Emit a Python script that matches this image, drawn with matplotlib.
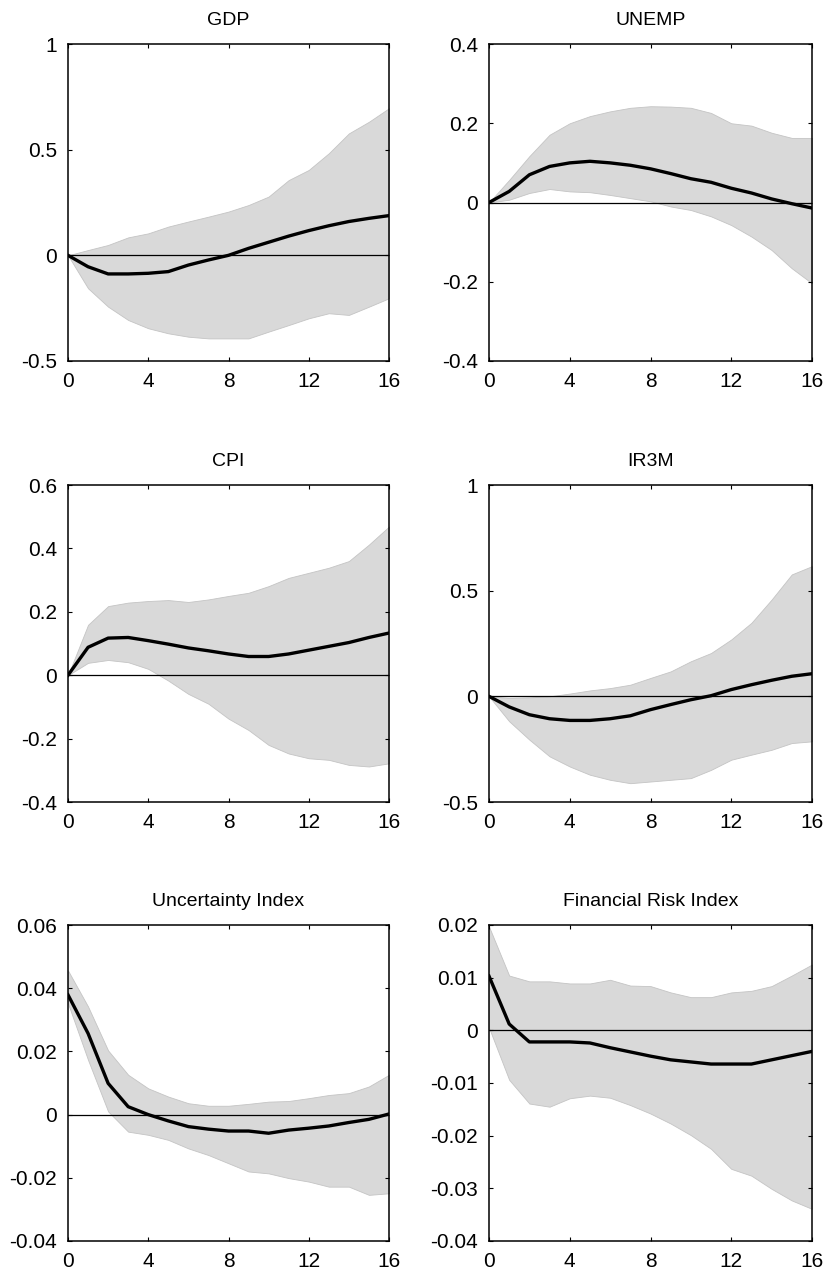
import numpy as np
import matplotlib
matplotlib.use("Agg")
import matplotlib.pyplot as plt

plt.rcParams["font.family"] = ["Liberation Sans", "DejaVu Sans"]

# Horizons (quarters)
horizon = list(range(17))

# Median responses and bands
gdp_med = [0, -0.054, -0.088, -0.088, -0.085, -0.077, -0.046, -0.022, 0.0, 0.033,
           0.062, 0.091, 0.117, 0.14, 0.16, 0.175, 0.188]
gdp_up = [0, 0.025, 0.049, 0.085, 0.104, 0.136, 0.16, 0.183, 0.207, 0.238,
          0.278, 0.356, 0.404, 0.483, 0.577, 0.632, 0.696]
gdp_lo = [0, -0.156, -0.243, -0.306, -0.345, -0.369, -0.385, -0.393, -0.393, -0.393,
          -0.361, -0.33, -0.298, -0.274, -0.282, -0.243, -0.203]

unemp_med = [0, 0.028, 0.07, 0.091, 0.1, 0.104, 0.1, 0.094, 0.085, 0.073,
             0.06, 0.051, 0.036, 0.024, 0.009, -0.003, -0.014]
unemp_up = [0, 0.057, 0.117, 0.171, 0.2, 0.218, 0.23, 0.239, 0.243, 0.242,
            0.239, 0.226, 0.2, 0.194, 0.176, 0.163, 0.163]
unemp_lo = [0, 0.007, 0.024, 0.034, 0.028, 0.026, 0.019, 0.011, 0.003, -0.01,
            -0.019, -0.035, -0.057, -0.086, -0.12, -0.166, -0.204]

cpi_med = [0, 0.088, 0.117, 0.119, 0.109, 0.098, 0.086, 0.077, 0.067, 0.059,
           0.059, 0.067, 0.079, 0.091, 0.103, 0.119, 0.133]
cpi_up = [0, 0.159, 0.218, 0.229, 0.234, 0.237, 0.231, 0.239, 0.25, 0.26,
          0.281, 0.307, 0.323, 0.339, 0.36, 0.412, 0.469]
cpi_lo = [0, 0.039, 0.048, 0.041, 0.02, -0.017, -0.059, -0.09, -0.137, -0.173,
          -0.22, -0.247, -0.262, -0.267, -0.283, -0.288, -0.278]

ir_med = [0, -0.05, -0.087, -0.106, -0.114, -0.114, -0.106, -0.092, -0.063, -0.039,
          -0.016, 0.003, 0.032, 0.055, 0.076, 0.095, 0.107]
ir_up = [0, -0.008, -0.005, 0.0, 0.013, 0.028, 0.039, 0.055, 0.087, 0.118,
         0.166, 0.205, 0.269, 0.348, 0.458, 0.577, 0.616]
ir_lo = [0, -0.118, -0.205, -0.284, -0.332, -0.371, -0.395, -0.411, -0.403, -0.395,
         -0.387, -0.348, -0.3, -0.276, -0.253, -0.221, -0.213]

unc_med = [0.0379, 0.0257, 0.0099, 0.0025, 0.0, -0.002, -0.0038, -0.0046, -0.0052, -0.0052,
           -0.0059, -0.0049, -0.0043, -0.0036, -0.0025, -0.0015, 0.0002]
unc_up = [0.0456, 0.0342, 0.0203, 0.0126, 0.0083, 0.0057, 0.0036, 0.0028, 0.0028, 0.0034,
          0.0041, 0.0043, 0.0052, 0.0062, 0.0068, 0.0089, 0.0126]
unc_lo = [0.0352, 0.0173, 0.001, -0.0054, -0.0064, -0.008, -0.0107, -0.0128, -0.0154, -0.018,
          -0.0186, -0.0201, -0.0212, -0.0228, -0.0228, -0.0254, -0.0249]

fri_med = [0.0103, 0.0012, -0.0022, -0.0022, -0.0022, -0.0024, -0.0033, -0.0041, -0.0049, -0.0056,
           -0.006, -0.0064, -0.0064, -0.0064, -0.0056, -0.0048, -0.004]
fri_up = [0.0197, 0.0104, 0.0093, 0.0093, 0.0089, 0.0089, 0.0096, 0.0085, 0.0084, 0.0072,
          0.0063, 0.0063, 0.0072, 0.0075, 0.0084, 0.0104, 0.0125]
fri_lo = [0.0005, -0.0094, -0.0139, -0.0145, -0.0129, -0.0124, -0.0128, -0.0142, -0.0158, -0.0177,
          -0.0199, -0.0225, -0.0263, -0.0276, -0.0301, -0.0323, -0.0339]

titles = ["GDP", "UNEMP", "CPI", "IR3M", "Uncertainty Index", "Financial Risk Index"]
medians = [gdp_med, unemp_med, cpi_med, ir_med, unc_med, fri_med]
uppers = [gdp_up, unemp_up, cpi_up, ir_up, unc_up, fri_up]
lowers = [gdp_lo, unemp_lo, cpi_lo, ir_lo, unc_lo, fri_lo]
ylims = [(-0.5, 1), (-0.4, 0.4), (-0.4, 0.6), (-0.5, 1), (-0.04, 0.06), (-0.04, 0.02)]
yticks = [
    [-0.5, 0, 0.5, 1],
    [-0.4, -0.2, 0, 0.2, 0.4],
    [-0.4, -0.2, 0, 0.2, 0.4, 0.6],
    [-0.5, 0, 0.5, 1],
    [-0.04, -0.02, 0, 0.02, 0.04, 0.06],
    [-0.04, -0.03, -0.02, -0.01, 0, 0.01, 0.02],
]
xticks = [0, 4, 8, 12, 16]

W, H = 825, 1276
fig = plt.figure(figsize=(W / 100, H / 100), dpi=100)

# pixel boxes of the six panels
col_x = [(68, 389), (489, 812)]
row_y = [(44, 361), (485, 802), (925, 1241)]

for i in range(6):
    r, c = divmod(i, 2)
    x0, x1 = col_x[c]
    y0, y1 = row_y[r]
    ax = fig.add_axes([x0 / W, 1 - y1 / H, (x1 - x0) / W, (y1 - y0) / H])
    ax.fill_between(horizon, lowers[i], uppers[i], facecolor="#d9d9d9",
                    edgecolor="#c4c4c4", linewidth=0.6, zorder=1)
    ax.axhline(0, color="black", linewidth=0.9, zorder=2)
    ax.plot(horizon, medians[i], color="black", linewidth=2.4, zorder=3)
    ax.set_xlim(0, 16)
    ax.set_ylim(*ylims[i])
    ax.set_xticks(xticks)
    ax.set_xticklabels([str(t) for t in xticks])
    ax.set_yticks(yticks[i])
    ax.set_yticklabels(["0" if t == 0 else f"{t:g}" for t in yticks[i]])
    ax.tick_params(direction="in", length=3, width=0.8, top=True, right=True,
                   labelsize=15, pad=8, colors="black")
    for sp in ax.spines.values():
        sp.set_linewidth(1.1)
        sp.set_zorder(4)
    ax.set_title(titles[i], fontsize=14, pad=14)

fig.savefig("out.png", dpi=100, facecolor="white")
